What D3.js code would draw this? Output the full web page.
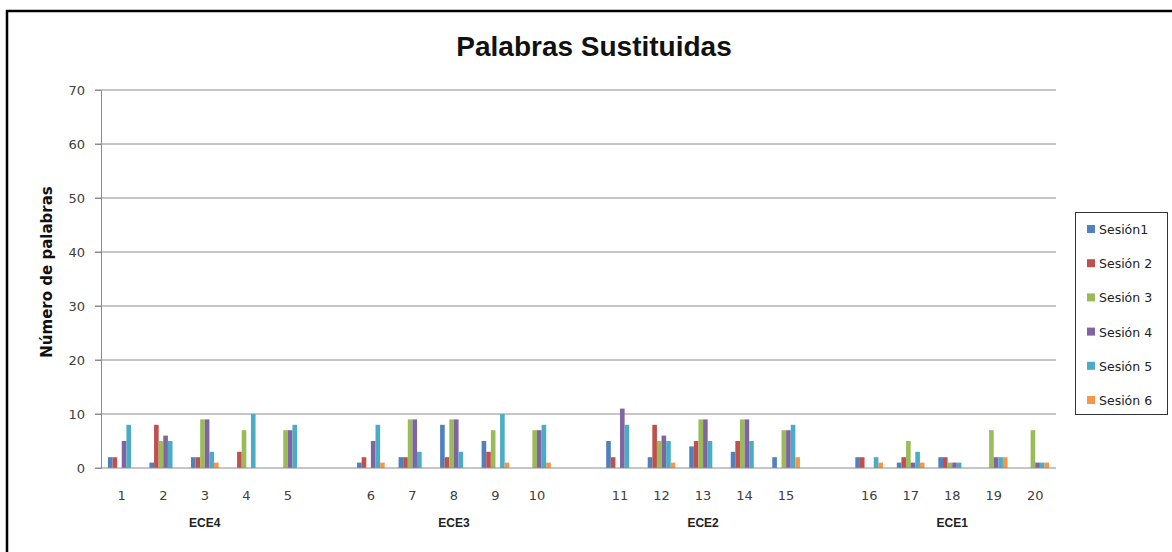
<!DOCTYPE html>
<html>
<head>
<meta charset="utf-8">
<script src="https://cdn.jsdelivr.net/npm/d3@7"></script>
<style>
  body { margin: 0; background: #fff; }
  svg { display: block; }
</style>
</head>
<body>
<svg id="chart" width="1172" height="552"></svg>
<script>
// categorias (dias) agrupadas por ECE
const groupNames = ["ECE4", "ECE3", "ECE2", "ECE1"];
const groupCats = [
    ["1", "2", "3", "4", "5"],
    ["6", "7", "8", "9", "10"],
    ["11", "12", "13", "14", "15"],
    ["16", "17", "18", "19", "20"]
];
const seriesNames = ["Sesión1", "Sesión 2", "Sesión 3", "Sesión 4", "Sesión 5", "Sesión 6"];
const seriesColors = ["#4F81BD", "#C0504D", "#9BBB59", "#8064A2", "#4BACC6", "#F79646"];

// valores por sesion, categorias 1..20
const sesion1 = [2, 1, 2, 0, 0, 1, 2, 8, 5, 0, 5, 2, 4, 3, 2, 2, 1, 2, 0, 0];
const sesion2 = [2, 8, 2, 3, 0, 2, 2, 2, 3, 0, 2, 8, 5, 5, 0, 2, 2, 2, 0, 0];
const sesion3 = [0, 5, 9, 7, 7, 0, 9, 9, 7, 7, 0, 5, 9, 9, 7, 0, 5, 1, 7, 7];
const sesion4 = [5, 6, 9, 0, 7, 5, 9, 9, 0, 7, 11, 6, 9, 9, 7, 0, 1, 1, 2, 1];
const sesion5 = [8, 5, 3, 10, 8, 8, 3, 3, 10, 8, 8, 5, 5, 5, 8, 2, 3, 1, 2, 1];
const sesion6 = [0, 0, 1, 0, 0, 1, 0, 0, 1, 1, 0, 1, 0, 0, 2, 1, 1, 0, 2, 1];
const yTicks = [0, 10, 20, 30, 40, 50, 60, 70];

const allSeries = [sesion1, sesion2, sesion3, sesion4, sesion5, sesion6];
const categories = groupCats.flat();

let svg = d3.select("#chart");

// marco
svg.append("path")
    .attr("d", "M7,552 V11 H1172")
    .attr("fill", "none")
    .attr("stroke", "#000")
    .attr("stroke-width", 2.5);

// slots: categorias + un hueco entre grupos
let slots = [];
groupCats.forEach((cats, i) => {
    cats.forEach(c => slots.push(c));
    if (i < groupCats.length - 1) slots.push("gap" + i);
});

let x = d3.scaleBand().domain(slots).range([101, 1056]);
let xs = d3.scaleBand().domain(seriesNames).range([0, x.bandwidth()])
    .paddingInner(0).paddingOuter(1.5);
let y = d3.scaleLinear().domain([0, 70]).range([468, 90]);

// rejilla
svg.append("g").selectAll("line")
    .data(yTicks.filter(t => t > 0))
    .enter().append("line")
    .attr("x1", 95).attr("x2", 1056)
    .attr("y1", d => y(d)).attr("y2", d => y(d))
    .attr("stroke", "#8c8c8c").attr("stroke-width", 1);

// barras
let rows = [];
categories.forEach((c, i) => {
    seriesNames.forEach((s, j) => {
        rows.push({cat: c, serie: s, color: seriesColors[j], value: allSeries[j][i]});
    });
});

svg.append("g").selectAll("rect")
    .data(rows.filter(d => d.value > 0))
    .enter().append("rect")
    .attr("x", d => x(d.cat) + xs(d.serie))
    .attr("width", xs.bandwidth())
    .attr("y", d => y(d.value))
    .attr("height", d => y(0) - y(d.value))
    .attr("fill", d => d.color);

// eje y
let yAxis = svg.append("g")
    .attr("transform", "translate(101,0)")
    .call(d3.axisLeft(y).tickValues(yTicks).tickSize(6).tickPadding(10));
yAxis.select(".domain").attr("stroke", "#8c8c8c");
yAxis.selectAll(".tick line").attr("stroke", "#8c8c8c");
yAxis.selectAll("text")
    .attr("font-family", "DejaVu Sans")
    .attr("font-size", 13)
    .attr("fill", "#404040");

// linea base
svg.append("line")
    .attr("x1", 95).attr("x2", 1056)
    .attr("y1", y(0)).attr("y2", y(0))
    .attr("stroke", "#8c8c8c");

// etiquetas eje x
svg.append("g").selectAll("text")
    .data(categories)
    .enter().append("text")
    .attr("x", d => x(d) + x.bandwidth() / 2)
    .attr("y", 500)
    .attr("text-anchor", "middle")
    .attr("font-family", "DejaVu Sans")
    .attr("font-size", 13)
    .attr("fill", "#404040")
    .text(d => d);

svg.append("g").selectAll("text")
    .data(groupNames)
    .enter().append("text")
    .attr("x", (d, i) => {
        let cats = groupCats[i];
        return (x(cats[0]) + x(cats[cats.length - 1]) + x.bandwidth()) / 2;
    })
    .attr("y", 527)
    .attr("text-anchor", "middle")
    .attr("font-family", "Liberation Sans")
    .attr("font-weight", "bold")
    .attr("font-size", 12)
    .attr("fill", "#222")
    .text(d => d);

// titulos
svg.append("text")
    .attr("x", 594).attr("y", 56)
    .attr("text-anchor", "middle")
    .attr("font-family", "Liberation Sans")
    .attr("font-weight", "bold")
    .attr("font-size", 28)
    .attr("fill", "#111")
    .text("Palabras Sustituidas");

svg.append("text")
    .attr("transform", "translate(52,272) rotate(-90)")
    .attr("text-anchor", "middle")
    .attr("font-family", "DejaVu Sans")
    .attr("font-weight", "bold")
    .attr("font-size", 15)
    .attr("fill", "#111")
    .text("Número de palabras");

// leyenda
let legend = svg.append("g");
legend.append("rect")
    .attr("x", 1075.5).attr("y", 212.5)
    .attr("width", 92).attr("height", 202)
    .attr("fill", "#fff").attr("stroke", "#333");

let ly = d3.scalePoint().domain(seriesNames).range([229, 400]);
let items = legend.selectAll("g.item")
    .data(seriesNames)
    .enter().append("g")
    .attr("transform", d => `translate(1087,${ly(d)})`);
items.append("rect")
    .attr("x", 0).attr("y", -4)
    .attr("width", 8).attr("height", 8)
    .attr("fill", (d, i) => seriesColors[i]);
items.append("text")
    .attr("x", 12).attr("y", 5)
    .attr("font-family", "DejaVu Sans")
    .attr("font-size", 12.5)
    .attr("fill", "#222")
    .text(d => d);
</script>
</body>
</html>
